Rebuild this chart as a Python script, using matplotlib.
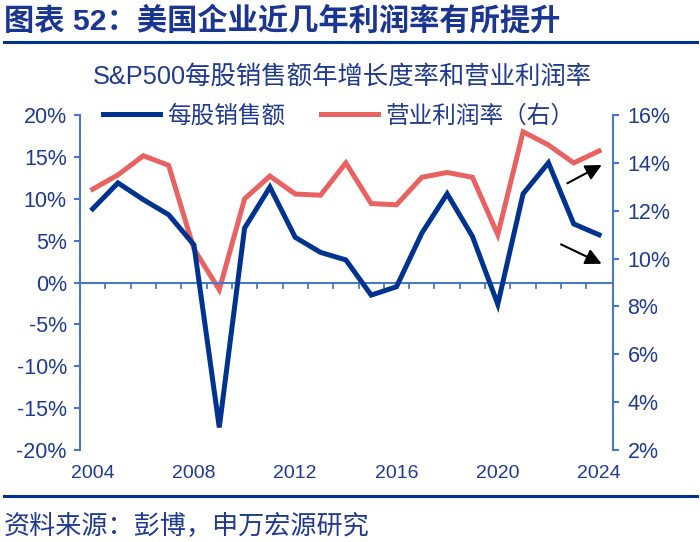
import numpy as np
import matplotlib
matplotlib.use("Agg")
import matplotlib.pyplot as plt

plt.rcParams['font.family'] = ['Liberation Sans', 'Noto Sans CJK SC', 'DejaVu Sans']

years = list(range(2004, 2025))
sales_growth = [8.8, 11.9, 9.9, 8.1, 4.5, -17.3, 6.5, 11.4, 5.4, 3.6, 2.7, -1.5, -0.5,
                5.9, 10.6, 5.5, -2.6, 10.6, 14.3, 7.0, 5.7]
op_margin = [12.9, 13.5, 14.3, 13.9, 10.4, 8.7, 12.5, 13.45, 12.7, 12.65, 14.0, 12.3, 12.25,
             13.4, 13.6, 13.4, 11.0, 15.3, 14.75, 14.0, 14.5]
left_ticks = [-20, -15, -10, -5, 0, 5, 10, 15, 20]
right_ticks = [2, 4, 6, 8, 10, 12, 14, 16]
year_labels = [2004, 2008, 2012, 2016, 2020, 2024]

BLUE = '#00338F'
RED = '#E86262'
AXC = '#4A78C8'
TXT = '#1F3A8F'

fig = plt.figure(figsize=(7, 5.42), dpi=100)
ax = fig.add_axes([0.1143, 0.1697, 0.7614, 0.618])
ax2 = ax.twinx()

l1, = ax.plot(years, sales_growth, color=BLUE, lw=3.6, solid_joinstyle='miter')
l2, = ax2.plot(years, op_margin, color=RED, lw=3.6, solid_joinstyle='miter')
ax.set_zorder(ax2.get_zorder() + 1)
ax.patch.set_visible(False)

ax.set_xlim(2003.5, 2024.55)
ax.set_ylim(-20, 20)
ax2.set_ylim(2, 16)

ax.set_yticks(left_ticks)
ax.set_yticklabels([f'{t}%' for t in left_ticks])
ax2.set_yticks(right_ticks)
ax2.set_yticklabels([f'{t}%' for t in right_ticks])
ax.set_xticks(year_labels)
ax.set_xticklabels([str(y) for y in year_labels])

for a in (ax, ax2):
    a.spines['top'].set_visible(False)
    a.spines['bottom'].set_visible(False)
    a.spines['left'].set_color(AXC)
    a.spines['right'].set_color(AXC)
    a.spines['left'].set_linewidth(1.5)
    a.spines['right'].set_linewidth(1.5)
ax.spines['right'].set_visible(False)
ax2.spines['left'].set_visible(False)

ax.axhline(0, color=AXC, lw=1.5, zorder=1)
ax.tick_params(axis='y', colors=AXC, labelcolor=TXT, labelsize=15.5, length=4.5, width=1.5, pad=5)
ax2.tick_params(axis='y', colors=AXC, labelcolor=TXT, labelsize=15.5, length=4.5, width=1.5, pad=6)
ax.tick_params(axis='x', which='major', length=0, labelcolor=TXT, labelsize=14, pad=11)

# small ticks on the zero line between categories
for xb in np.arange(2004.5, 2024, 1):
    ax.plot([xb, xb], [0, -0.65], color=AXC, lw=1.3, zorder=1)

ax.annotate('', xy=(2024.2, 14.2), xytext=(2022.65, 11.7),
            arrowprops=dict(arrowstyle='-|>', color='black', lw=1.5, mutation_scale=24))
ax.annotate('', xy=(2024.2, 2.1), xytext=(2022.4, 4.7),
            arrowprops=dict(arrowstyle='-|>', color='black', lw=1.5, mutation_scale=24))

leg = ax.legend([l1, l2], ['每股销售额', '营业利润率（右）'], loc='upper left',
                bbox_to_anchor=(0.043, 1.03), ncol=2, frameon=False, fontsize=17,
                handlelength=2.4, columnspacing=1.55, handletextpad=0.3,
                borderaxespad=0, borderpad=0)
for t in leg.get_texts():
    t.set_color(TXT)

fig.text(0.005, 0.961, '图表 52：美国企业近几年利润率有所提升', fontsize=21.8, fontweight='bold',
         color='#1A3690', va='center', ha='left')
fig.add_artist(plt.Line2D([0.005, 0.995], [0.9225, 0.9225], color='#00338F', lw=2.2))
fig.text(0.4886, 0.858, 'S&P500每股销售额年增长度率和营业利润率', fontsize=18.3, color=TXT,
         va='center', ha='center')
fig.add_artist(plt.Line2D([0.005, 0.995], [0.085, 0.085], color='#00338F', lw=2.2))
fig.text(0.005, 0.031, '资料来源：彭博，申万宏源研究', fontsize=18.8, color=TXT,
         va='center', ha='left')

fig.savefig('out.png', dpi=100)
